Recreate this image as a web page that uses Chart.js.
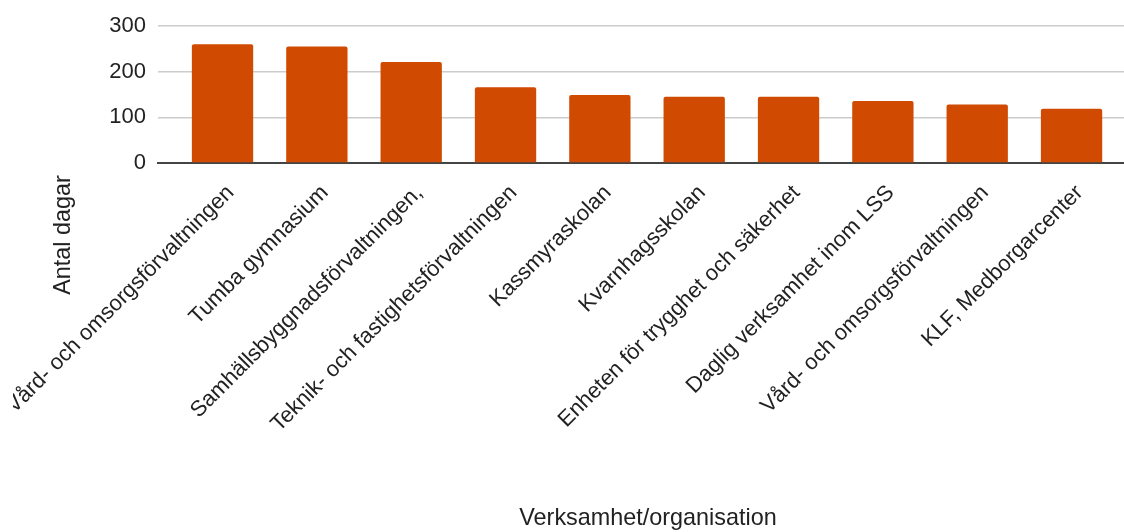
<!DOCTYPE html>
<html>
<head>
<meta charset="utf-8">
<script src="https://cdn.jsdelivr.net/npm/chart.js@4"></script>
<style>
  body { margin: 0; background: #fff; }
  #wrap { width: 1124px; height: 532px; position: relative; overflow: hidden; }
</style>
</head>
<body>
<div id="wrap"><canvas id="myChart" width="1124" height="532"></canvas></div>
<script>
// datos
const categorias = [
    "Vård- och omsorgsförvaltningen",
    "Tumba gymnasium",
    "Samhällsbyggnadsförvaltningen,",
    "Teknik- och fastighetsförvaltningen",
    "Kassmyraskolan",
    "Kvarnhagsskolan",
    "Enheten för trygghet och säkerhet",
    "Daglig verksamhet inom LSS",
    "Vård- och omsorgsförvaltningen",
    "KLF, Medborgarcenter"
];
const antalDagar = [260, 255, 221, 166, 149, 145, 145, 136, 128, 119];
const yTicks = [0, 100, 200, 300];
const tituloY = "Antal dagar";
const tituloX = "Verksamhet/organisation";

const fuente = 'Arial, "Liberation Sans", sans-serif';

// titulos de los ejes dibujados a mano (como en el original)
const titulosPlugin = {
    id: 'titulos',
    afterDraw(chart) {
        const ctx = chart.ctx;
        ctx.save();
        // el original corta la primera etiqueta en el borde izquierdo
        ctx.fillStyle = '#fff';
        ctx.fillRect(0, 168, 13, 364);
        ctx.font = '23.4px ' + fuente;
        ctx.fillStyle = '#222';
        ctx.textAlign = 'center';
        ctx.textBaseline = 'middle';
        ctx.fillText(tituloX, 648, 519);
        ctx.translate(64, 235);
        ctx.rotate(-Math.PI / 2);
        ctx.fillText(tituloY, 0, 0);
        ctx.restore();
    }
};

const ctx = document.getElementById('myChart');
new Chart(ctx, {
    type: 'bar',
    data: {
        labels: categorias,
        datasets: [{
            label: tituloY,
            data: antalDagar,
            backgroundColor: '#d04a02',
            borderRadius: 2,
            categoryPercentage: 0.65,
            barPercentage: 1
        }]
    },
    options: {
        responsive: false,
        animation: false,
        layout: { padding: { top: 26, left: 0, right: 0, bottom: 0 } },
        plugins: {
            legend: { display: false },
            tooltip: { enabled: false }
        },
        scales: {
            x: {
                grid: { display: false, drawTicks: false },
                border: { color: '#444', width: 2 },
                ticks: {
                    autoSkip: false,
                    maxRotation: 45,
                    minRotation: 45,
                    padding: 17,
                    labelOffset: 8,
                    color: '#222',
                    font: { family: fuente, size: 22 }
                },
                afterBuildTicks(scale) {
                    // margen extra a la izquierda como en el original
                    scale._startValue = -0.684;
                    scale._valueRange = 10.24;
                },
                afterFit(scale) {
                    scale.paddingLeft = 0;
                    scale.paddingRight = 0;
                    scale.height = 532 - 163;
                }
            },
            y: {
                min: 0,
                max: 300,
                grid: { color: '#cccccc', lineWidth: 1.5, drawTicks: false },
                border: { display: false },
                afterBuildTicks(scale) {
                    scale.ticks = yTicks.map(v => ({ value: v }));
                },
                ticks: {
                    padding: 12,
                    color: '#222',
                    font: { family: fuente, size: 22 }
                },
                afterFit(scale) {
                    scale.width = 158;
                }
            }
        }
    },
    plugins: [titulosPlugin]
});
</script>
</body>
</html>
